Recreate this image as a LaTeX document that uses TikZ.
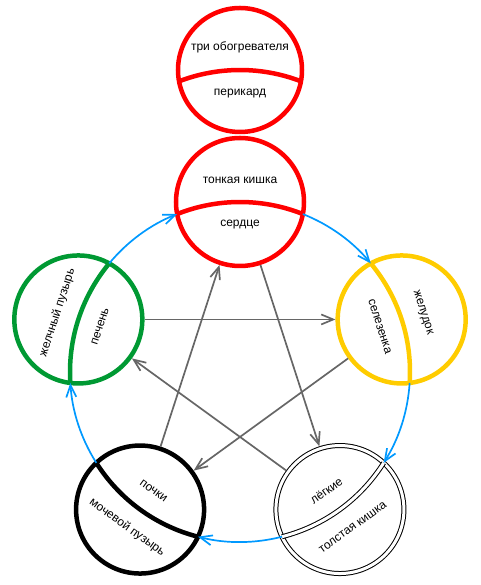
\documentclass[tikz,border=0pt]{standalone}
\usepackage{fontspec}
\setmainfont{Liberation Sans}
\usetikzlibrary{arrows.meta}
\definecolor{genblue}{RGB}{0,153,255}
\definecolor{woodgreen}{RGB}{0,153,51}
\definecolor{earthyellow}{RGB}{255,204,0}
\definecolor{ctrlgray}{RGB}{102,102,102}

\begin{document}
\begin{tikzpicture}[x=1pt, y=1pt,
    organ/.style={draw, shape=circle, line width=4.5pt, minimum size=128pt, inner sep=0pt},
    lbl/.style={font=\fontsize{12}{14}\selectfont, inner sep=0pt},
    gen/.style={draw=genblue, line width=1.7pt, -{Straight Barb[length=12pt, width=10pt]}, bend left=14.3, looseness=0.87},
    ctrl/.style={draw=ctrlgray, line width=1.7pt, -{Straight Barb[length=12pt, width=10pt]}}]
  \useasboundingbox (-240,-213) rectangle (240,372);

  % Elements
  \node[organ, draw=red, minimum size=124pt] (triple) at (0,302) {};
  \node[organ, draw=red] (heart) at (90:170) {};
  \node[organ, draw=earthyellow] (spleen) at (18:170) {};
  \node[organ, draw=black, line width=1pt, double=white, double distance=3pt, outer sep=2.5pt] (lungs) at (-54:170) {};
  \node[organ, draw=black] (kidney) at (-126:170) {};
  \node[organ, draw=woodgreen] (liver) at (162:170) {};

  \coordinate (triple-a) at (-60.9,290.7);
  \coordinate (triple-b) at (60.9,290.7);
  \coordinate (heart-a) at (111.7:170);
  \coordinate (heart-b) at (68.3:170);
  \coordinate (spleen-a) at (39.7:170);
  \coordinate (spleen-b) at (-3.7:170);
  \coordinate (lungs-a) at (-32.3:170);
  \coordinate (lungs-b) at (-75.7:170);
  \coordinate (kidney-a) at (-104.3:170);
  \coordinate (kidney-b) at (-147.7:170);
  \coordinate (liver-a) at (183.7:170);
  \coordinate (liver-b) at (140.3:170);

  % Dividers
  \draw[red, line width=4.5pt] (triple-a) arc[start angle=111, end angle=69, radius=170];
  \draw[red, line width=4.5pt] (heart-a) arc[start angle=111.7, end angle=68.3, radius=170];
  \draw[earthyellow, line width=4.5pt] (spleen-a) arc[start angle=39.7, end angle=-3.7, radius=170];
  \draw[black, line width=1pt, double=white, double distance=3pt] (lungs-a) arc[start angle=-32.3, end angle=-75.7, radius=170];
  \draw[black, line width=4.5pt] (kidney-a) arc[start angle=-104.3, end angle=-147.7, radius=170];
  \draw[woodgreen, line width=4.5pt] (liver-a) arc[start angle=183.7, end angle=140.3, radius=170];

  % Labels
  \node[lbl] (th) at (0,325) {три обогревателя};
  \node[lbl] (pc) at (0,278) {перикард};
  \node[lbl] (si) at (90:192) {тонкая кишка};
  \node[lbl] (ht) at (90:147) {сердце};
  \node[lbl, rotate=-72] (st) at (18:192) {желудок};
  \node[lbl, rotate=-72] (sp) at (18:147) {селезенка};
  \node[lbl, rotate=36] (li) at (-54:192) {толстая кишка};
  \node[lbl, rotate=36] (lu) at (-54:147) {лёгкие};
  \node[lbl, rotate=-36] (bl) at (-126:192) {мочевой пузырь};
  \node[lbl, rotate=-36] (ki) at (-126:147) {почки};
  \node[lbl, rotate=72] (gb) at (162:192) {желчный пузырь};
  \node[lbl, rotate=72] (lv) at (162:147) {печень};

  % Generating
  \draw[gen] (heart-b) to (spleen-a);
  \draw[gen] (spleen-b) to (lungs-a);
  \draw[gen] (lungs-b) to (kidney-a);
  \draw[gen] (kidney-b) to (liver-a);
  \draw[gen] (liver-b) to (heart-a);

  % Controlling
  \draw[ctrl] (heart) -- (lungs);
  \draw[ctrl] (lungs) -- (liver);
  \draw[ctrl] (liver) -- (spleen);
  \draw[ctrl] (spleen) -- (kidney);
  \draw[ctrl] (kidney) -- (heart);
\end{tikzpicture}
\end{document}
